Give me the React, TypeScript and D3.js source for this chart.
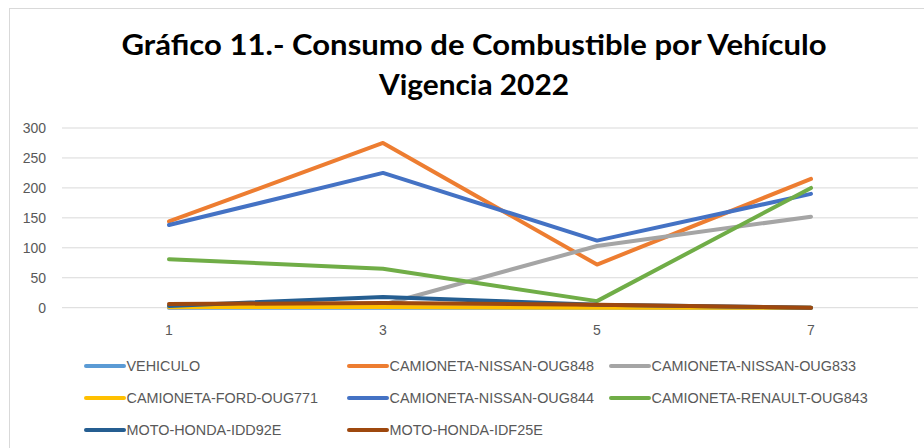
import React from "react";
import * as d3 from "d3";

const categories = ["1", "3", "5", "7"];
const seriesNames = [
  "VEHICULO",
  "CAMIONETA-NISSAN-OUG848",
  "CAMIONETA-NISSAN-OUG833",
  "CAMIONETA-FORD-OUG771",
  "CAMIONETA-NISSAN-OUG844",
  "CAMIONETA-RENAULT-OUG843",
  "MOTO-HONDA-IDD92E",
  "MOTO-HONDA-IDF25E",
];
const vehiculo = [0, 0, 0, 0];
const nissan848 = [144, 275, 72, 215];
const nissan833 = [0, 5, 103, 152];
const ford771 = [1, 1, 0, 0];
const nissan844 = [138, 225, 112, 190];
const renault843 = [81, 65, 11, 200];
const hondaIdd92e = [3, 18, 5, 0];
const hondaIdf25e = [6, 8, 5, 0];
const seriesValues = [vehiculo, nissan848, nissan833, ford771, nissan844, renault843, hondaIdd92e, hondaIdf25e];
const colors = ["#5B9BD5", "#ED7D31", "#A5A5A5", "#FFC000", "#4472C4", "#70AD47", "#255E91", "#9E480E"];
const yTicks = [0, 50, 100, 150, 200, 250, 300];
const titleLines = ["Gráfico 11.- Consumo de Combustible por Vehículo", "Vigencia 2022"];

export default function App() {
  const W = 924;
  const H = 448;
  const x = d3.scaleBand<string>().domain(categories).range([62, 918]);
  const cx = (c: string) => (x(c) as number) + x.bandwidth() / 2;
  const y = d3.scaleLinear().domain([0, 300]).range([307.7, 128]);
  const line = d3
    .line<number>()
    .x((_, i) => cx(categories[i]))
    .y((v) => y(v));

  const legendCols = [86, 349, 611];
  const legendRows = [366, 398, 430];

  return (
    <div style={{ position: "absolute", left: 0, top: 0 }}>
      <svg width={W} height={H} style={{ display: "block" }}>
        <rect x={0} y={0} width={W} height={H} fill="#fff" />
        <rect x={9.5} y={8.5} width={W + 10} height={H + 10} fill="#fff" stroke="#d9d9d9" strokeWidth={1} />
        <text
          x={474}
          y={54.5}
          textAnchor="middle"
          fontFamily="Lato, 'Open Sans', sans-serif"
          fontWeight="bold"
          fontSize={29}
          fill="#000"
          textLength={705}
          lengthAdjust="spacingAndGlyphs"
        >
          {titleLines[0]}
        </text>
        <text
          x={474}
          y={94.5}
          textAnchor="middle"
          fontFamily="Lato, 'Open Sans', sans-serif"
          fontWeight="bold"
          fontSize={29}
          fill="#000"
          textLength={190}
          lengthAdjust="spacingAndGlyphs"
        >
          {titleLines[1]}
        </text>
        {yTicks.map((t) => (
          <g key={t}>
            <line x1={62} x2={918} y1={y(t)} y2={y(t)} stroke="#d9d9d9" strokeWidth={1} />
            <text
              x={46}
              y={y(t) + 5}
              textAnchor="end"
              fontFamily="'Liberation Sans', Arial, sans-serif"
              fontSize={14}
              fill="#595959"
            >
              {t}
            </text>
          </g>
        ))}
        {categories.map((c) => (
          <text
            key={c}
            x={cx(c)}
            y={335}
            textAnchor="middle"
            fontFamily="'Liberation Sans', Arial, sans-serif"
            fontSize={14}
            fill="#595959"
          >
            {c}
          </text>
        ))}
        {seriesValues.map((vals, i) => (
          <path
            key={seriesNames[i]}
            d={line(vals) as string}
            fill="none"
            stroke={colors[i]}
            strokeWidth={4}
            strokeLinecap="round"
            strokeLinejoin="round"
          />
        ))}
        {seriesNames.map((name, i) => {
          const lx = legendCols[i % 3];
          const ly = legendRows[Math.floor(i / 3)];
          return (
            <g key={name}>
              <line x1={lx} x2={lx + 38} y1={ly} y2={ly} stroke={colors[i]} strokeWidth={4} strokeLinecap="round" />
              <text
                x={lx + 40.5}
                y={ly + 5}
                fontFamily="'Liberation Sans', Arial, sans-serif"
                fontSize={14.4}
                fill="#595959"
              >
                {name}
              </text>
            </g>
          );
        })}
      </svg>
    </div>
  );
}
